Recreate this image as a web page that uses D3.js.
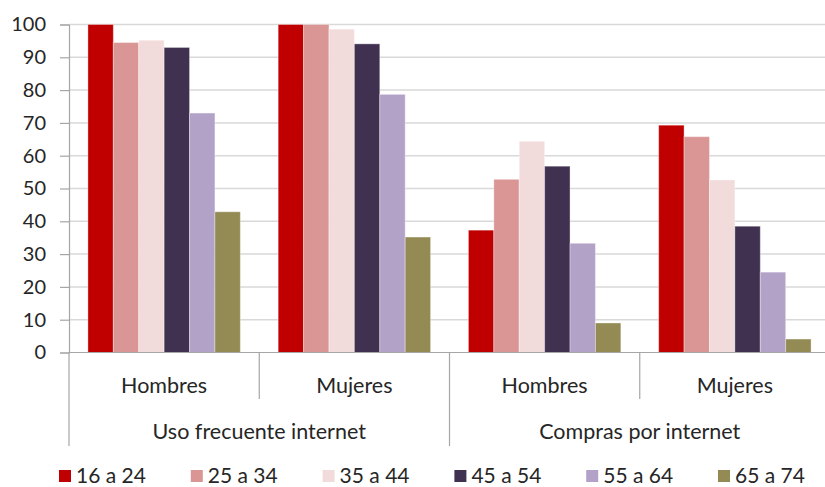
<!DOCTYPE html>
<html>
<head>
<meta charset="utf-8">
<script src="https://cdn.jsdelivr.net/npm/d3@7"></script>
<style>
  html, body { margin: 0; padding: 0; background: #fff; }
  svg { display: block; }
  text { font-family: Lato, "Open Sans", sans-serif; fill: #262626; }
</style>
</head>
<body>
<svg id="chart" width="825" height="487"></svg>
<script>
const seriesNames = ["16 a 24", "25 a 34", "35 a 44", "45 a 54", "55 a 64", "65 a 74"];
const seriesColors = ["#C00000", "#D99694", "#F2DCDB", "#403151", "#B3A2C7", "#948A54"];
const subCategories = ["Hombres", "Mujeres", "Hombres", "Mujeres"];
const mainCategories = ["Uso frecuente internet", "Compras por internet"];
const yTicks = [0, 10, 20, 30, 40, 50, 60, 70, 80, 90, 100];

// values per group (rows) for each age series (columns)
const usoHombres    = [100, 94.5, 95.2, 93.0, 73.0, 42.9];
const usoMujeres    = [100, 100, 98.6, 94.1, 78.7, 35.2];
const comprasHombres = [37.3, 52.8, 64.4, 56.8, 33.3, 9.0];
const comprasMujeres = [69.3, 65.8, 52.6, 38.5, 24.5, 4.1];
const groupValues = [usoHombres, usoMujeres, comprasHombres, comprasMujeres];

const svg = d3.select("#chart");
const mLeft = 69, mRight = 830, mTop = 24.5, mBottom = 352.5;

const y = d3.scaleLinear().domain([0, 100]).range([mBottom, mTop]);
const x0 = d3.scaleBand().domain(d3.range(groupValues.length)).range([mLeft, mRight]).paddingInner(0).paddingOuter(0);
const x1 = d3.scaleBand().domain(seriesNames).range([0, x0.bandwidth()]).paddingInner(0).paddingOuter(0.745);

// gridlines
svg.append("g").selectAll("line").data(yTicks.filter(d => d > 0)).join("line")
  .attr("x1", mLeft).attr("x2", mRight)
  .attr("y1", d => y(d)).attr("y2", d => y(d))
  .attr("stroke", "#D9D9D9").attr("stroke-width", 1.5);

// y axis
const yAxis = svg.append("g").attr("transform", `translate(${mLeft},0)`)
  .call(d3.axisLeft(y).tickValues(yTicks).tickSize(9).tickPadding(14).tickFormat(d3.format("d")));
yAxis.select(".domain").attr("stroke", "#A6A6A6").attr("stroke-width", 1.2);
yAxis.selectAll(".tick line").attr("stroke", "#A6A6A6").attr("stroke-width", 1.2);
yAxis.selectAll(".tick text").style("font-size", "20px").style("font-family", "Lato, sans-serif").attr("fill", "#262626");

// bars
const groups = svg.append("g").selectAll("g").data(groupValues).join("g")
  .attr("transform", (d, i) => `translate(${x0(i)},0)`);
groups.selectAll("rect").data(d => d.map((v, j) => ({ v, s: seriesNames[j], c: seriesColors[j] }))).join("rect")
  .attr("x", d => x1(d.s))
  .attr("width", x1.bandwidth())
  .attr("y", d => y(d.v))
  .attr("height", d => y(0) - y(d.v))
  .attr("fill", d => d.c)
  .attr("stroke", "rgba(255,255,255,0.35)")
  .attr("stroke-width", 1);

// x axis baseline
svg.append("line").attr("x1", mLeft).attr("x2", mRight).attr("y1", mBottom).attr("y2", mBottom)
  .attr("stroke", "#A6A6A6").attr("stroke-width", 1.2);

// axis left extension and dividers
const sep = svg.append("g").attr("stroke", "#A6A6A6").attr("stroke-width", 1.2);
sep.append("line").attr("x1", mLeft).attr("x2", mLeft).attr("y1", mBottom).attr("y2", 446);
[1, 3].forEach(i => sep.append("line").attr("x1", x0(i)).attr("x2", x0(i)).attr("y1", mBottom).attr("y2", 399));
sep.append("line").attr("x1", x0(2)).attr("x2", x0(2)).attr("y1", mBottom).attr("y2", 446);
sep.append("line").attr("x1", mRight).attr("x2", mRight).attr("y1", mBottom).attr("y2", 446);

// sub category labels
svg.append("g").selectAll("text").data(subCategories).join("text")
  .attr("x", (d, i) => x0(i) + x0.bandwidth() / 2)
  .attr("y", 385).attr("dy", "0.35em")
  .attr("text-anchor", "middle").style("font-size", "21.5px")
  .text(d => d);

// main category labels
svg.append("g").selectAll("text").data(mainCategories).join("text")
  .attr("x", (d, i) => x0(i * 2) + x0.bandwidth())
  .attr("y", 431).attr("dy", "0.35em")
  .attr("text-anchor", "middle").style("font-size", "21.5px")
  .text(d => d);

// legend
const legendX = d3.scalePoint().domain(seriesNames).range([59, 718]);
const lg = svg.append("g").selectAll("g").data(seriesNames).join("g")
  .attr("transform", d => `translate(${legendX(d)},476)`);
lg.append("rect").attr("x", 0).attr("y", -6).attr("width", 12).attr("height", 12)
  .attr("fill", (d, i) => seriesColors[i]);
lg.append("text").attr("x", 17).attr("y", 0).attr("dy", "0.35em")
  .style("font-size", "21px").text(d => d);
</script>
</body>
</html>
